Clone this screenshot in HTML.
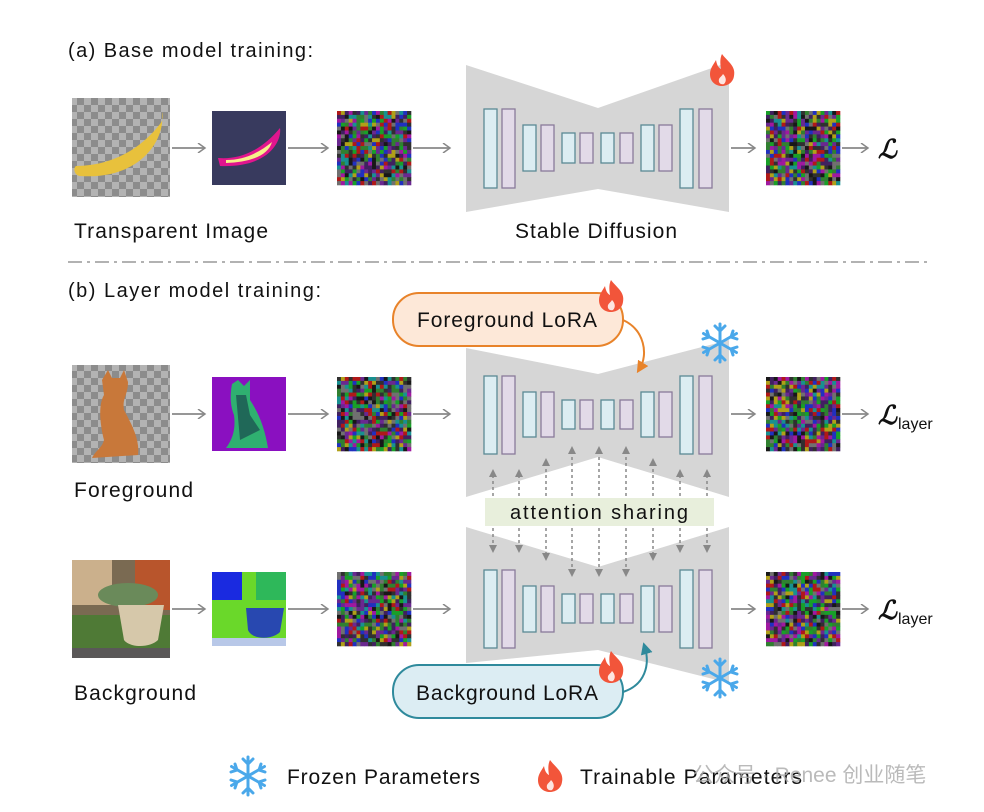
<!DOCTYPE html>
<html><head><meta charset="utf-8"><style>
html,body{margin:0;padding:0;background:#fff;width:984px;height:812px;overflow:hidden}
svg text{font-family:"Liberation Sans","DejaVu Sans","Noto Sans CJK SC",sans-serif}
</style></head><body>
<svg id="s" width="984" height="812" viewBox="0 0 984 812" xmlns="http://www.w3.org/2000/svg">
<defs>
<pattern id="chk" width="14" height="14" patternUnits="userSpaceOnUse">
<rect width="14" height="14" fill="#8c8c8c"/><rect width="7" height="7" fill="#b3b3b3"/><rect x="7" y="7" width="7" height="7" fill="#b3b3b3"/>
</pattern>
<marker id="ah" markerWidth="10" markerHeight="10" refX="8" refY="5" orient="auto" markerUnits="userSpaceOnUse"><path d="M1,0 L8,5 L1,10" fill="none" stroke="#888" stroke-width="1.5"/></marker>
<marker id="dh" markerWidth="8" markerHeight="8" refX="4" refY="4" orient="auto" markerUnits="userSpaceOnUse"><path d="M0,0 L8,4 L0,8 z" fill="#888"/></marker>
<marker id="oh" markerWidth="12" markerHeight="12" refX="6" refY="6" orient="auto" markerUnits="userSpaceOnUse"><path d="M0,0 L12,6 L0,12 z" fill="#e8832a"/></marker>
<marker id="bh" markerWidth="12" markerHeight="12" refX="6" refY="6" orient="auto" markerUnits="userSpaceOnUse"><path d="M0,0 L12,6 L0,12 z" fill="#2f8a9c"/></marker>
<g id="flame"><path d="M0,-16 C6,-8 14,-4 12,6 C11,13 5,16 0,16 C-6,16 -12,12 -12,4 C-12,-2 -8,-6 -6,-10 C-5,-4 -3,-2 -1,-1 C-2,-7 -2,-12 0,-16 Z" fill="#f2553a"/><path d="M1,4 C4,7 5,11 2,14 C-1,15 -4,13 -3,9 C-2,7 0,6 1,4Z" fill="#fff" opacity="0.85"/></g>
<g id="snow" stroke="#4aa8ea" stroke-width="3" stroke-linecap="round" fill="none">
<line x1="0" y1="-19" x2="0" y2="19"/><line x1="-16.5" y1="-9.5" x2="16.5" y2="9.5"/><line x1="-16.5" y1="9.5" x2="16.5" y2="-9.5"/>
<path d="M-5,-17 L0,-12 L5,-17 M-5,17 L0,12 L5,17 M-17,-4 L-11,-6 L-13,-12 M17,4 L11,6 L13,12 M-17,4 L-11,6 L-13,12 M17,-4 L11,-6 L13,-12"/>
</g>
</defs>

<text x="68" y="57" font-size="20" fill="#111" textLength="245" lengthAdjust="spacing">(a) Base model training:</text>
<text x="74" y="238" font-size="21" fill="#111" textLength="194" lengthAdjust="spacing">Transparent Image</text>
<text x="515" y="238" font-size="21" fill="#111" textLength="162" lengthAdjust="spacing">Stable Diffusion</text>
<line x1="68" y1="262" x2="930" y2="262" stroke="#999" stroke-width="1.5" stroke-dasharray="14,5,3,5"/>
<text x="68" y="297" font-size="20" fill="#111" textLength="253" lengthAdjust="spacing">(b) Layer model training:</text>
<text x="74" y="497" font-size="21" fill="#111" textLength="119" lengthAdjust="spacing">Foreground</text>
<text x="74" y="700" font-size="21" fill="#111" textLength="122" lengthAdjust="spacing">Background</text>

<!-- row1 images -->
<rect x="72" y="98" width="98" height="99" fill="url(#chk)"/>
<path d="M76,166 C110,166 140,150 160,124 C165,118 162,112 162,112 C166,140 140,180 80,176 C74,175 73,168 76,166Z" fill="#e8c13c"/>
<rect x="212" y="111" width="74" height="74" fill="#383a5e"/>
<path d="M218,158 C240,160 262,150 280,128 C282,140 270,168 220,166Z" fill="#e0158e"/>
<path d="M226,160 C245,160 260,152 272,142 C268,156 250,162 226,163Z" fill="#f6f08a"/>
<!-- row2 images -->
<rect x="72" y="365" width="98" height="98" fill="url(#chk)"/>
<path d="M102,380 L108,370 L112,378 L120,378 L124,370 L128,382 C128,395 122,398 124,410 C132,425 140,440 138,455 L92,458 C96,450 102,448 104,440 C100,425 98,405 104,395 Z" fill="#c8783a"/>
<rect x="212" y="377" width="74" height="74" fill="#8a10c0"/>
<path d="M232,384 L238,380 L244,386 L250,380 L250,400 C260,415 265,430 268,448 L226,448 C232,440 236,430 234,415 C230,405 230,395 232,384Z" fill="#2fb070"/>
<path d="M236,395 L246,395 L250,415 L260,430 L240,440 Z" fill="#183848" opacity=".6"/>
<!-- row3 images -->
<rect x="72" y="560" width="98" height="98" fill="#7a6a52"/>
<rect x="72" y="560" width="40" height="45" fill="#cbb08c"/>
<rect x="135" y="560" width="35" height="50" fill="#b8552c"/>
<rect x="72" y="615" width="98" height="35" fill="#4f7a36"/>
<rect x="72" y="648" width="98" height="10" fill="#5a5858"/>
<ellipse cx="128" cy="595" rx="30" ry="12" fill="#6a8a5a"/>
<path d="M118,605 L164,605 L158,640 C150,648 130,648 124,640Z" fill="#d6c8aa"/>
<rect x="212" y="572" width="74" height="74" fill="#6ad82a"/>
<rect x="212" y="572" width="30" height="28" fill="#1a2ae0"/>
<rect x="256" y="572" width="30" height="28" fill="#2eb85a"/>
<path d="M246,608 L284,608 L280,632 C272,640 252,640 248,630Z" fill="#2848b0"/>
<rect x="212" y="638" width="74" height="8" fill="#b8c8e8"/>

<g id="noise"></g>

<!-- arrows -->
<g stroke="#888" stroke-width="1.8" fill="none" marker-end="url(#ah)">
<line x1="172" y1="148" x2="205" y2="148"/><line x1="288" y1="148" x2="328" y2="148"/><line x1="413" y1="148" x2="450" y2="148"/><line x1="731" y1="148" x2="755" y2="148"/><line x1="842" y1="148" x2="868" y2="148"/>
<line x1="172" y1="414" x2="205" y2="414"/><line x1="288" y1="414" x2="328" y2="414"/><line x1="413" y1="414" x2="450" y2="414"/><line x1="731" y1="414" x2="755" y2="414"/><line x1="842" y1="414" x2="868" y2="414"/>
<line x1="172" y1="609" x2="205" y2="609"/><line x1="288" y1="609" x2="328" y2="609"/><line x1="413" y1="609" x2="450" y2="609"/><line x1="731" y1="609" x2="755" y2="609"/><line x1="842" y1="609" x2="868" y2="609"/>
</g>
<text x="878" y="158" font-size="26" font-style="italic" font-weight="bold" fill="#111" style="font-family:'Liberation Serif',serif">ℒ</text>
<text x="878" y="424" font-size="26" font-style="italic" font-weight="bold" fill="#111" style="font-family:'Liberation Serif',serif">ℒ</text><text x="898" y="429" font-size="16" fill="#111">layer</text>
<text x="878" y="619" font-size="26" font-style="italic" font-weight="bold" fill="#111" style="font-family:'Liberation Serif',serif">ℒ</text><text x="898" y="624" font-size="16" fill="#111">layer</text>

<!-- unets -->
<polygon points="466,65 598,108 729,62 729,212 598,189 466,212" fill="#d6d6d6"/>
<polygon points="466,348 598,374 729,340 729,497 598,457 466,497" fill="#d6d6d6"/>
<polygon points="466,527 598,567 729,527 729,683 598,650 466,663" fill="#d6d6d6"/>
<g id="bars"></g>

<rect x="485" y="498" width="229" height="28" fill="#e8efdc"/>
<text x="510" y="519" font-size="20" fill="#111" textLength="178" lengthAdjust="spacing">attention sharing</text>
<g id="dots" stroke="#888" stroke-width="1.5" stroke-dasharray="3,3"></g>

<!-- LoRA boxes -->
<rect x="393" y="293" width="230" height="53" rx="26" fill="#fde8d8" stroke="#e8832a" stroke-width="2"/>
<text x="417" y="327" font-size="21" fill="#111" textLength="180" lengthAdjust="spacing">Foreground LoRA</text>
<path d="M623,320 C645,330 648,355 640,368" fill="none" stroke="#e8832a" stroke-width="2" marker-end="url(#oh)"/>
<rect x="393" y="665" width="230" height="53" rx="26" fill="#dcedf3" stroke="#2f8a9c" stroke-width="2"/>
<text x="416" y="700" font-size="21" fill="#111" textLength="182" lengthAdjust="spacing">Background LoRA</text>
<path d="M623,692 C645,685 650,665 645,648" fill="none" stroke="#2f8a9c" stroke-width="2" marker-end="url(#bh)"/>

<use href="#flame" x="722" y="70"/>
<use href="#flame" x="611" y="296"/>
<use href="#flame" x="611" y="667"/>
<use href="#snow" x="720" y="343"/>
<use href="#snow" x="720" y="678"/>

<use href="#snow" x="248" y="776"/>
<text x="287" y="784" font-size="21" fill="#111" textLength="193" lengthAdjust="spacing">Frozen Parameters</text>
<use href="#flame" x="550" y="776"/>
<text x="580" y="784" font-size="21" fill="#111" textLength="222" lengthAdjust="spacing">Trainable Parameters</text>
<text x="693" y="782" font-size="21" fill="#aaa" opacity=".8">公众号 · Renee 创业随笔</text>
</svg>
<script>
var NS="http://www.w3.org/2000/svg";
function el(p,t,a){var e=document.createElementNS(NS,t);for(var k in a)e.setAttribute(k,a[k]);p.appendChild(e);return e;}
var seed=7;function r(){seed=(seed*16807)%2147483647;return seed/2147483647;}
var ng=document.getElementById('noise');
var pos=[[337,111],[766,111],[337,377],[766,377],[337,572],[766,572]];
var cols=["#b01818","#18a028","#2030c0","#a018a0","#189090","#b0a018","#181818","#303030","#707070","#6a2890","#308030","#402060"];
pos.forEach(function(p){el(ng,'rect',{x:p[0],y:p[1],width:74,height:74,fill:'#503860'});
for(var i=0;i<19;i++)for(var j=0;j<19;j++){el(ng,'rect',{x:p[0]+i*74/19,y:p[1]+j*74/19,width:74/19+0.3,height:74/19+0.3,fill:cols[Math.floor(r()*cols.length)]});}});
var bx=[484,502,523,541,562,580,601,620,641,659,680,699];
var lv=[0,0,1,1,2,2,2,2,1,1,0,0];
var bg=document.getElementById('bars');
[[109,188,125,171,133,163],[376,454,392,437,400,429],[570,648,586,632,594,623]].forEach(function(Y){
bx.forEach(function(x,i){var l=lv[i];var y1=Y[l*2],y2=Y[l*2+1];
el(bg,'rect',{x:x,y:y1,width:13,height:y2-y1,fill:i%2?'#e2dae8':'#dcedf2',stroke:i%2?'#8a7a9a':'#5a8a94','stroke-width':1.3});});});
var dx=[493,519,546,572,599,626,653,680,707],t=[473,473,462,450,450,450,462,473,473],b=[549,549,557,573,573,573,557,549,549];
var dg=document.getElementById('dots');
dx.forEach(function(x,i){
el(dg,'line',{x1:x,y1:496,x2:x,y2:t[i],'marker-end':'url(#dh)'});
el(dg,'line',{x1:x,y1:528,x2:x,y2:b[i],'marker-end':'url(#dh)'});});
</script>
</body></html>
